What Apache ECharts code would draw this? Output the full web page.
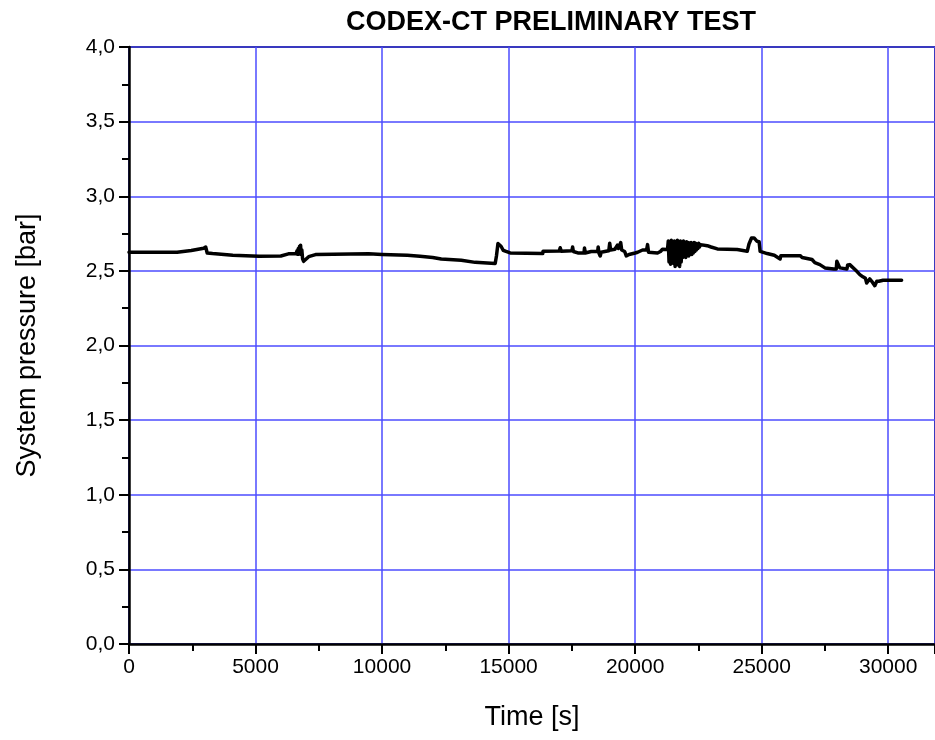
<!DOCTYPE html>
<html>
<head>
<meta charset="utf-8">
<title>CODEX-CT PRELIMINARY TEST</title>
<script src="https://cdn.jsdelivr.net/npm/echarts@6/dist/echarts.min.js"></script>
<style>
  html, body { margin: 0; padding: 0; background: #fff; }
  #chart { width: 935px; height: 740px; }
</style>
</head>
<body>
<div id="chart"></div>
<script>
// Recorded system pressure over the run
const timeSec = [
  0, 1900, 1910, 2460, 2470, 2950, 3030, 3060, 3090, 3300, 3320, 4100, 4150, 5140, 6000, 6050, 6300,
  6600, 6640, 6660, 6690, 6710, 6740, 6760, 6780, 6800, 6830, 6860, 6900, 6950, 7100, 7370, 7400, 9470, 9500,
  10000, 11000, 11500, 12000, 12340, 13130, 13680, 14470, 14520, 14580, 14650, 14700, 14790, 14900, 15060,
  16350, 16360, 17000, 17040, 17080, 17500, 17530, 17560, 17736, 17980, 18000, 18030, 18266, 18520, 18540,
  18570, 18620, 18660, 18800, 18960, 18996, 19030, 19200, 19300, 19340, 19430, 19470, 19587, 19650, 19705,
  19760, 20000, 20100, 20295, 20450, 20492, 20530, 20885, 21000, 21082, 21280,
  21310, 21340, 21370, 21400, 21430, 21460, 21490, 21520, 21550, 21580, 21610, 21640, 21670, 21700, 21730,
  21760, 21790, 21820, 21850, 21880, 21910, 21940, 21970, 22000, 22030, 22060, 22090, 22120, 22150, 22180,
  22210, 22240, 22270, 22300, 22330, 22360, 22390, 22420, 22450, 22480, 22510, 22540, 22580,
  22850, 23000, 23250, 24035, 24100, 24430, 24500, 24600, 24700, 24820, 24900, 24940, 25220, 25500, 25730,
  25760, 26520, 26600, 26990, 27100, 27300, 27500, 27850, 27950, 27970, 28000, 28090, 28370, 28400, 28480,
  28550, 28760, 28880, 29000, 29100, 29150, 29200, 29270, 29350, 29470, 29550, 29630, 29700, 29800, 30530
];
const pressureBar = [
  2.625, 2.625, 2.636, 2.636, 2.647, 2.652, 2.660, 2.655, 2.620, 2.616, 2.604, 2.604, 2.598, 2.598, 2.600, 2.612, 2.614,
  2.615, 2.635, 2.612, 2.650, 2.612, 2.665, 2.615, 2.672, 2.610, 2.640, 2.580, 2.564, 2.572, 2.595, 2.609, 2.614, 2.614, 2.610,
  2.610, 2.605, 2.598, 2.590, 2.580, 2.571, 2.557, 2.549, 2.600, 2.683, 2.683, 2.665, 2.638, 2.630, 2.620,
  2.616, 2.631, 2.633, 2.655, 2.632, 2.635, 2.660, 2.630, 2.620, 2.620, 2.654, 2.620, 2.630, 2.630, 2.660,
  2.620, 2.600, 2.625, 2.630, 2.635, 2.685, 2.640, 2.645, 2.672, 2.650, 2.690, 2.640, 2.630, 2.600, 2.590,
  2.610, 2.620, 2.625, 2.640, 2.640, 2.676, 2.625, 2.620, 2.630, 2.645, 2.643,
  2.700, 2.560, 2.690, 2.545, 2.705, 2.580, 2.695, 2.550, 2.700, 2.530, 2.690, 2.570, 2.705, 2.540, 2.695,
  2.530, 2.700, 2.560, 2.690, 2.590, 2.700, 2.600, 2.685, 2.590, 2.695, 2.610, 2.690, 2.600, 2.685, 2.620,
  2.690, 2.610, 2.680, 2.620, 2.690, 2.630, 2.685, 2.640, 2.680, 2.650, 2.685, 2.660, 2.676,
  2.669, 2.660, 2.647, 2.643, 2.631, 2.631, 2.680, 2.720, 2.721, 2.698, 2.695, 2.631, 2.616, 2.605, 2.580,
  2.602, 2.602, 2.590, 2.576, 2.555, 2.542, 2.520, 2.513, 2.513, 2.564, 2.555, 2.520, 2.513, 2.540, 2.542,
  2.530, 2.497, 2.475, 2.460, 2.450, 2.419, 2.430, 2.446, 2.430, 2.401, 2.430, 2.430, 2.420, 2.437, 2.437
];

const xTicks = [0, 5000, 10000, 15000, 20000, 25000, 30000];
const yTicks = [0, 0.5, 1, 1.5, 2, 2.5, 3, 3.5, 4];

const chart = echarts.init(document.getElementById('chart'), null, { renderer: 'canvas' });

const seriesData = timeSec.map((t, i) => [t, pressureBar[i]]);
const fontFamily = '"Liberation Sans", Arial, sans-serif';
const gridBlue = '#4d4dff';

chart.setOption({
  animation: false,
  backgroundColor: '#ffffff',
  title: {
    text: 'CODEX-CT PRELIMINARY TEST',
    left: 546,
    textAlign: 'center',
    top: 4,
    textStyle: { fontFamily, fontSize: 27, fontWeight: 'bold', color: '#000' }
  },
  grid: {
    left: 129, top: 47, right: -3, bottom: 96,
    show: true, borderColor: '#000', borderWidth: 2, backgroundColor: 'transparent'
  },
  xAxis: {
    type: 'value',
    min: xTicks[0],
    max: 31850,
    interval: xTicks[1] - xTicks[0],
    name: 'Time [s]',
    nameLocation: 'middle',
    nameGap: 60,
    nameTextStyle: { fontFamily, fontSize: 27, color: '#000' },
    axisLine: { show: true, onZero: false, lineStyle: { color: '#000', width: 2.5 } },
    axisTick: { show: true, inside: false, length: 10, lineStyle: { color: '#000', width: 2 } },
    minorTick: { show: true, splitNumber: 2, length: 7, lineStyle: { color: '#000', width: 2 } },
    axisLabel: {
      fontFamily, fontSize: 21, color: '#000', margin: 13, showMaxLabel: false,
      formatter: v => (xTicks.includes(v) ? String(v) : '')
    },
    splitLine: { show: true, lineStyle: { color: gridBlue, width: 1.5 } }
  },
  yAxis: {
    type: 'value',
    min: yTicks[0],
    max: yTicks[yTicks.length - 1],
    interval: yTicks[1] - yTicks[0],
    name: 'System pressure [bar]',
    nameLocation: 'middle',
    nameGap: 88,
    nameTextStyle: { fontFamily, fontSize: 27, color: '#000' },
    axisLine: { show: true, onZero: false, lineStyle: { color: '#000', width: 2.5 } },
    axisTick: { show: true, inside: false, length: 10, lineStyle: { color: '#000', width: 2 } },
    minorTick: { show: true, splitNumber: 2, length: 7, lineStyle: { color: '#000', width: 2 } },
    axisLabel: {
      fontFamily, fontSize: 21, color: '#000', margin: 14,
      formatter: v => v.toFixed(1).replace('.', ',')
    },
    splitLine: { show: true, lineStyle: { color: gridBlue, width: 1.5 } }
  },
  series: [{
    type: 'line',
    data: seriesData,
    showSymbol: false,
    symbol: 'none',
    lineStyle: { color: '#000', width: 3.5, join: 'round', cap: 'round' },
    z: 5
  }]
});
</script>
</body>
</html>
